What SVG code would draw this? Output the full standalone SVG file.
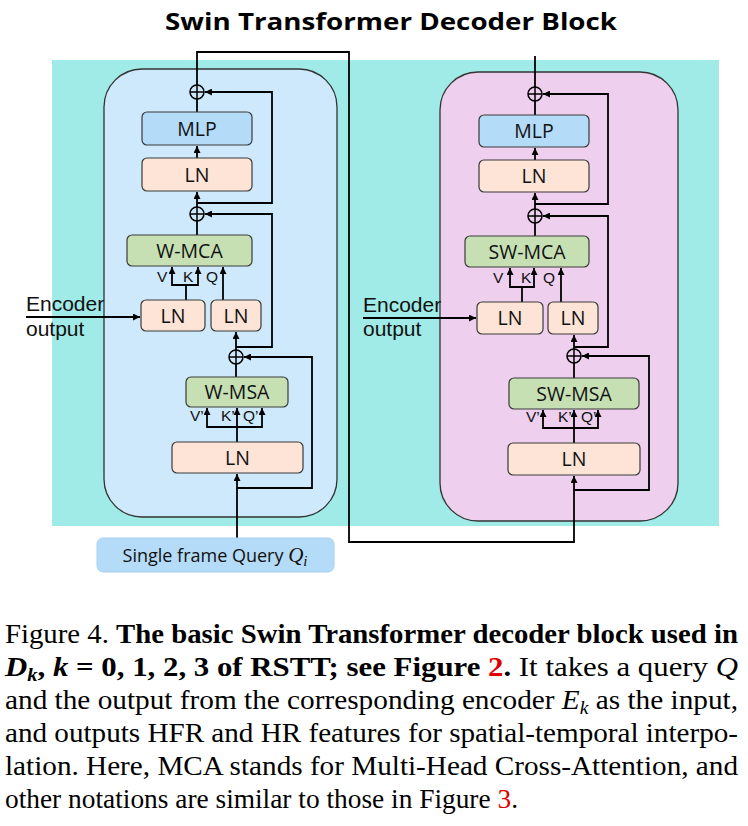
<svg xmlns="http://www.w3.org/2000/svg" width="748" height="826" viewBox="0 0 748 826">
<style>
.box{stroke:#3a3a3a;stroke-width:1.2}
.mlp{fill:#b4dbf8}
.ln{fill:#fde4d6}
.att{fill:#c6e0b4}
.lbl{font-family:"Open Sans","Liberation Sans",sans-serif;font-size:19.5px;fill:#111;text-anchor:middle}
.small{font-family:"Liberation Sans",Arial,sans-serif;font-size:15.5px;fill:#111}
.enc{font-family:"Liberation Sans",Arial,sans-serif;font-size:21px;fill:#111}
.con{fill:none;stroke:#000;stroke-width:1.8}
.arr{marker-end:url(#ah)}
.plus circle{fill:none;stroke:#000;stroke-width:1.5}
.plus path{stroke:#000;stroke-width:1.5}
.cap{font-family:"Liberation Serif","Times New Roman",serif;font-size:27px;fill:#000}
</style>
<defs>
<marker id="ah" viewBox="0 0 10 10" refX="10" refY="5" markerWidth="7" markerHeight="7" markerUnits="userSpaceOnUse" orient="auto"><path d="M0,0 L10,5 L0,10 z" fill="#000"/></marker>
<g id="plusSym" class="plus"><circle r="7"/><path d="M-7,0H7M0,-7V7"/></g>
</defs>
<rect width="748" height="826" fill="#fff"/>
<text x="391" y="30" font-family="'Open Sans','Liberation Sans',sans-serif" font-weight="bold" font-size="24" text-anchor="middle" textLength="452" lengthAdjust="spacingAndGlyphs">Swin Transformer Decoder Block</text>
<rect id="bg" x="52" y="60" width="667" height="466" fill="#a0ebe7"/>
<g id="blockW"><rect x="104" y="69" width="233" height="448" rx="38" fill="#cde9fb" stroke="#333" stroke-width="1.3"/></g>
<g id="blockSW"><rect x="440" y="72" width="238" height="449" rx="38" fill="#efcfee" stroke="#333" stroke-width="1.3"/></g>

<g id="connectors">
<path class="con arr" d="M197,85 V52 H349 V542 H574 V476"/>
<path class="con" d="M197,112 V99"/>
<path class="con arr" d="M197,158 V146"/>
<path class="con arr" d="M197,207 V192"/>
<path class="con arr" d="M197,203 H272 V92 H205"/>
<path class="con" d="M197,235 V221"/>
<path class="con arr" d="M236,347 H272 V214 H205"/>
<path class="con arr" d="M186,300 V285 H172 V267"/>
<path class="con arr" d="M186,285 H198 V267"/>
<path class="con arr" d="M223,300 V267"/>
<path class="con arr" d="M236,350 V332"/>
<path class="con" d="M236,377 V364"/>
<path class="con arr" d="M237,538 V474"/>
<path class="con arr" d="M237,488 H312 V357 H244"/>
<path class="con arr" d="M237,442 V408"/>
<path class="con arr" d="M237,427 H207 V408"/>
<path class="con arr" d="M237,427 H262 V408"/>
<path class="con arr" d="M26,317 H140"/>

<path class="con" d="M535,87 V56"/>
<path class="con" d="M535,115 V101"/>
<path class="con arr" d="M535,160 V148"/>
<path class="con arr" d="M535,209 V193"/>
<path class="con arr" d="M535,204 H608 V94 H543"/>
<path class="con" d="M535,236 V223"/>
<path class="con arr" d="M574,347 H608 V216 H543"/>
<path class="con arr" d="M522,302 V287 H510 V268"/>
<path class="con arr" d="M522,287 H534 V268"/>
<path class="con arr" d="M561,302 V268"/>
<path class="con arr" d="M574,349 V335"/>
<path class="con" d="M574,378 V363"/>
<path class="con arr" d="M574,443 V410"/>
<path class="con arr" d="M574,428 H543 V410"/>
<path class="con arr" d="M574,428 H598 V410"/>
<path class="con arr" d="M574,490 H649 V356 H582"/>
<path class="con arr" d="M363,318 H476"/>
</g>

<g id="plusL1"><use href="#plusSym" x="197" y="92"/></g>
<g id="plusL2"><use href="#plusSym" x="197" y="214"/></g>
<g id="plusL3"><use href="#plusSym" x="236" y="357"/></g>
<g id="plusR1"><use href="#plusSym" x="535" y="94"/></g>
<g id="plusR2"><use href="#plusSym" x="535" y="216"/></g>
<g id="plusR3"><use href="#plusSym" x="574" y="356"/></g>

<g id="mlpL"><rect class="box mlp" x="142" y="112" width="110" height="33" rx="5"/><text class="lbl" x="197" y="135.5">MLP</text></g>
<g id="lnL1"><rect class="box ln" x="142" y="158" width="110" height="33" rx="5"/><text class="lbl" x="197" y="181.5">LN</text></g>
<g id="wmca"><rect class="box att" x="127" y="235" width="125" height="31" rx="5"/><text class="lbl" x="189.5" y="257.5">W-MCA</text></g>
<g id="lnL2"><rect class="box ln" x="141" y="300" width="64" height="31" rx="5"/><text class="lbl" x="173" y="322.5">LN</text></g>
<g id="lnL3"><rect class="box ln" x="211" y="300" width="50" height="31" rx="5"/><text class="lbl" x="236" y="322.5">LN</text></g>
<g id="wmsa"><rect class="box att" x="186" y="377" width="102" height="30" rx="5"/><text class="lbl" x="237" y="399">W-MSA</text></g>
<g id="lnL4"><rect class="box ln" x="172" y="442" width="131" height="31" rx="5"/><text class="lbl" x="237.5" y="464.5">LN</text></g>
<g id="labelsL">
<text class="small" x="157" y="282">V</text><text class="small" x="183" y="282">K</text><text class="small" x="206" y="282">Q</text>
<text class="small" x="190" y="421">V’</text><text class="small" x="221" y="421">K’</text><text class="small" x="243" y="421">Q’</text>
</g>
<g id="encL"><text class="enc" x="26" y="311">Encoder</text><text class="enc" x="26" y="336">output</text></g>
<g id="query"><rect x="97" y="538" width="237" height="34" rx="6" fill="#b4dbf8" stroke="#a9d0ec" stroke-width="1"/><text x="215" y="562" font-family="'Open Sans','Liberation Sans',sans-serif" font-size="18" text-anchor="middle" fill="#111">Single frame Query <tspan font-family="'Liberation Serif',serif" font-style="italic" font-size="21">Q</tspan><tspan font-family="'Liberation Serif',serif" font-style="italic" font-size="15" dy="4">i</tspan></text></g>

<g id="mlpR"><rect class="box mlp" x="479" y="115" width="110" height="32" rx="5"/><text class="lbl" x="534" y="138">MLP</text></g>
<g id="lnR1"><rect class="box ln" x="479" y="160" width="110" height="32" rx="5"/><text class="lbl" x="534" y="183">LN</text></g>
<g id="swmca"><rect class="box att" x="465" y="236" width="124" height="31" rx="5"/><text class="lbl" x="527" y="258.5">SW-MCA</text></g>
<g id="lnR2"><rect class="box ln" x="477" y="302" width="66" height="32" rx="5"/><text class="lbl" x="510" y="325">LN</text></g>
<g id="lnR3"><rect class="box ln" x="548" y="302" width="50" height="32" rx="5"/><text class="lbl" x="573" y="325">LN</text></g>
<g id="swmsa"><rect class="box att" x="509" y="378" width="130" height="31" rx="5"/><text class="lbl" x="574" y="400.5">SW-MSA</text></g>
<g id="lnR4"><rect class="box ln" x="508" y="443" width="132" height="32" rx="5"/><text class="lbl" x="574" y="466">LN</text></g>
<g id="labelsR">
<text class="small" x="493" y="283">V</text><text class="small" x="521" y="283">K</text><text class="small" x="543" y="283">Q</text>
<text class="small" x="526" y="422">V’</text><text class="small" x="558" y="422">K’</text><text class="small" x="581" y="422">Q’</text>
</g>
<g id="encR"><text class="enc" x="363" y="312">Encoder</text><text class="enc" x="363" y="336">output</text></g>

<g id="caption">
<text class="cap" x="5" y="643" textLength="733" lengthAdjust="spacingAndGlyphs">Figure 4. <tspan font-weight="bold">The basic Swin Transformer decoder block used in</tspan></text>
<text class="cap" x="5" y="676" textLength="733" lengthAdjust="spacingAndGlyphs"><tspan font-weight="bold" font-style="italic">D</tspan><tspan font-weight="bold" font-style="italic" font-size="18" dy="5">k</tspan><tspan font-weight="bold" dy="-5">, </tspan><tspan font-weight="bold" font-style="italic">k</tspan><tspan font-weight="bold"> = 0, 1, 2, 3 of RSTT; see Figure </tspan><tspan font-weight="bold" fill="#e00000">2</tspan><tspan font-weight="bold">.</tspan> It takes a query <tspan font-style="italic">Q</tspan></text>
<text class="cap" x="5" y="709" textLength="733" lengthAdjust="spacingAndGlyphs">and the output from the corresponding encoder <tspan font-style="italic">E</tspan><tspan font-style="italic" font-size="18" dy="5">k</tspan><tspan dy="-5"> as the input,</tspan></text>
<text class="cap" x="5" y="742" textLength="733" lengthAdjust="spacingAndGlyphs">and outputs HFR and HR features for spatial-temporal interpo-</text>
<text class="cap" x="5" y="775" textLength="733" lengthAdjust="spacingAndGlyphs">lation.  Here, MCA stands for Multi-Head Cross-Attention, and</text>
<text class="cap" x="5" y="808" textLength="513" lengthAdjust="spacingAndGlyphs">other notations are similar to those in Figure <tspan fill="#e00000">3</tspan>.</text>
</g>
</svg>
